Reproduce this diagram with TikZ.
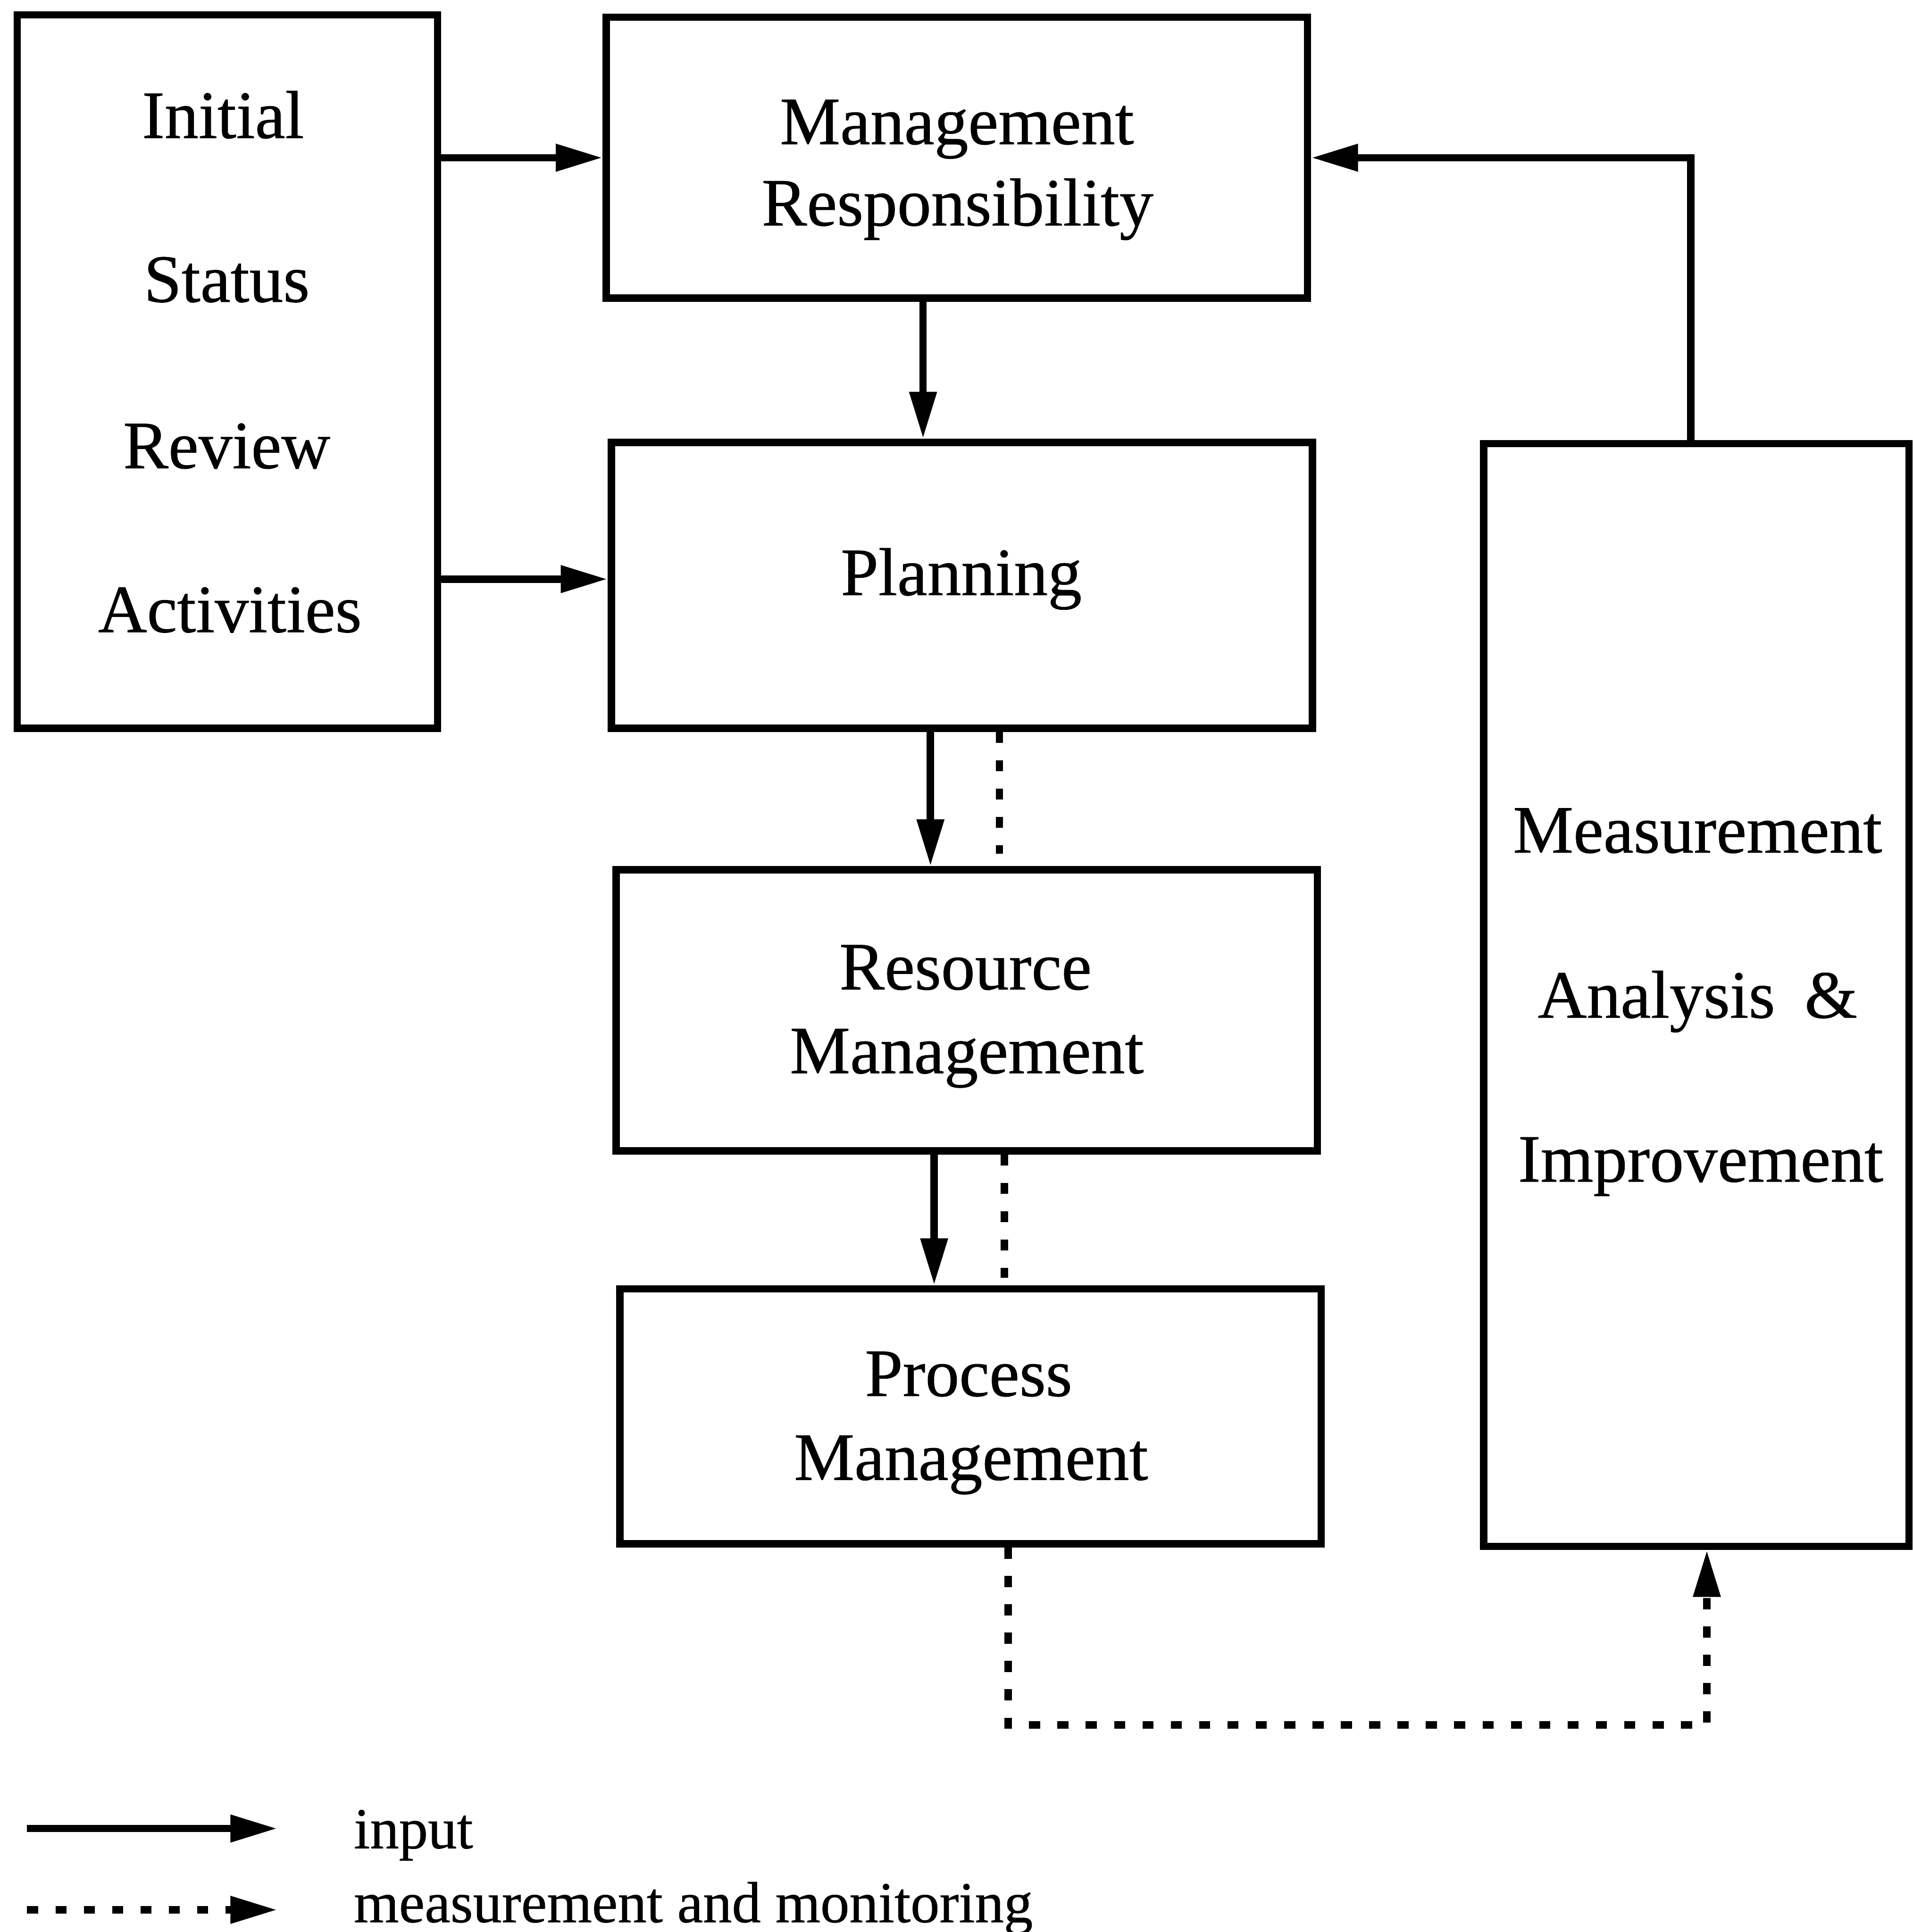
\documentclass[tikz,border=0pt]{standalone}
\usepackage{fontspec}
\setmainfont{Liberation Serif}[FakeBold=0.6]
\usetikzlibrary{arrows.meta}
\begin{document}
\begin{tikzpicture}[x=1pt,y=-1pt,
  box/.style={draw, line width=6pt, inner sep=0pt},
  lbl/.style={font=\fontsize{55}{60}\selectfont, inner sep=0pt, anchor=base},
  leg/.style={font=\fontsize{47}{52}\selectfont, inner sep=0pt, anchor=base west},
  arr/.style={line width=6pt, -{Triangle[length=38pt,width=21pt]}},
  dot/.style={line width=6pt, dash pattern=on 9pt off 14pt},
  dotarr/.style={dot, -{Triangle[length=38pt,width=21pt]}}]
\useasboundingbox (0,0) rectangle (1552,1568);
\fill[white] (0,0) rectangle (1552,1568);
% boxes
\node[box, minimum width=341pt, minimum height=579pt] (init) at (184.5,301.5) {};
\node[box, minimum width=569pt, minimum height=228pt] (mr) at (776.5,128) {};
\node[box, minimum width=569pt, minimum height=232pt] (plan) at (780.5,475) {};
\node[box, minimum width=569pt, minimum height=228pt] (res) at (784.5,820) {};
\node[box, minimum width=569pt, minimum height=207pt] (proc) at (787.5,1149.5) {};
\node[box, minimum width=345pt, minimum height=895pt] (meas) at (1376.5,807.5) {};
% texts
\node[lbl] (t1) at (181,112) {Initial};
\node[lbl] (t2) at (184,245) {Status};
\node[lbl] (t3) at (184,380) {Review};
\node[lbl] (t4) at (186.5,513) {Activities};
\node[lbl] (t5) at (776.5,117) {Management};
\node[lbl] (t6) at (777,183) {Responsibility};
\node[lbl] (t7) at (780,483) {Planning};
\node[lbl] (t8) at (783.5,803) {Resource};
\node[lbl] (t9) at (784.5,871) {Management};
\node[lbl] (t10) at (786,1133) {Process};
\node[lbl] (t11) at (788,1201) {Management};
\node[lbl] (t12) at (1377.5,692) {Measurement};
\node[lbl] (t13) at (1377.5,826) {Analysis\hspace{24pt}\&};
\node[lbl] (t14) at (1380,959) {Improvement};
% solid connectors
\draw[arr] (init.east |- mr.west) -- (mr.west);
\draw[arr] (init.east |- 0,470) -- (plan.west |- 0,470);
\draw[arr] (mr.south -| 749,0) -- (plan.north -| 749,0);
\draw[arr] (plan.south -| 755,0) -- (res.north -| 755,0);
\draw[arr] (res.south -| 758,0) -- (proc.north -| 758,0);
\draw[arr] (meas.north -| 1372,0) |- (mr.east);
% dotted connectors
\coordinate (d1end) at (811,693);
\draw[dot] (plan.south -| d1end) -- (d1end);
\coordinate (d2end) at (815,1037);
\draw[dot] (res.south -| d2end) -- (d2end);
\coordinate (c1) at (818,1400);
\coordinate (c2) at (1385,1400);
\draw[dotarr] (proc.south -| c1) -- (c1) -- (c2) -- (meas.south -| c2);
% legend
\coordinate (l1a) at (22,1484);
\coordinate (l1b) at (225,1484);
\draw[arr] (l1a) -- (l1b);
\coordinate (l2a) at (22,1550);
\coordinate (l2b) at (225,1550);
\draw[dotarr] (l2a) -- (l2b);
\node[leg] (li) at (287,1500) {input};
\node[leg] (lm) at (287,1560) {measurement and monitoring};
\end{tikzpicture}
\end{document}
